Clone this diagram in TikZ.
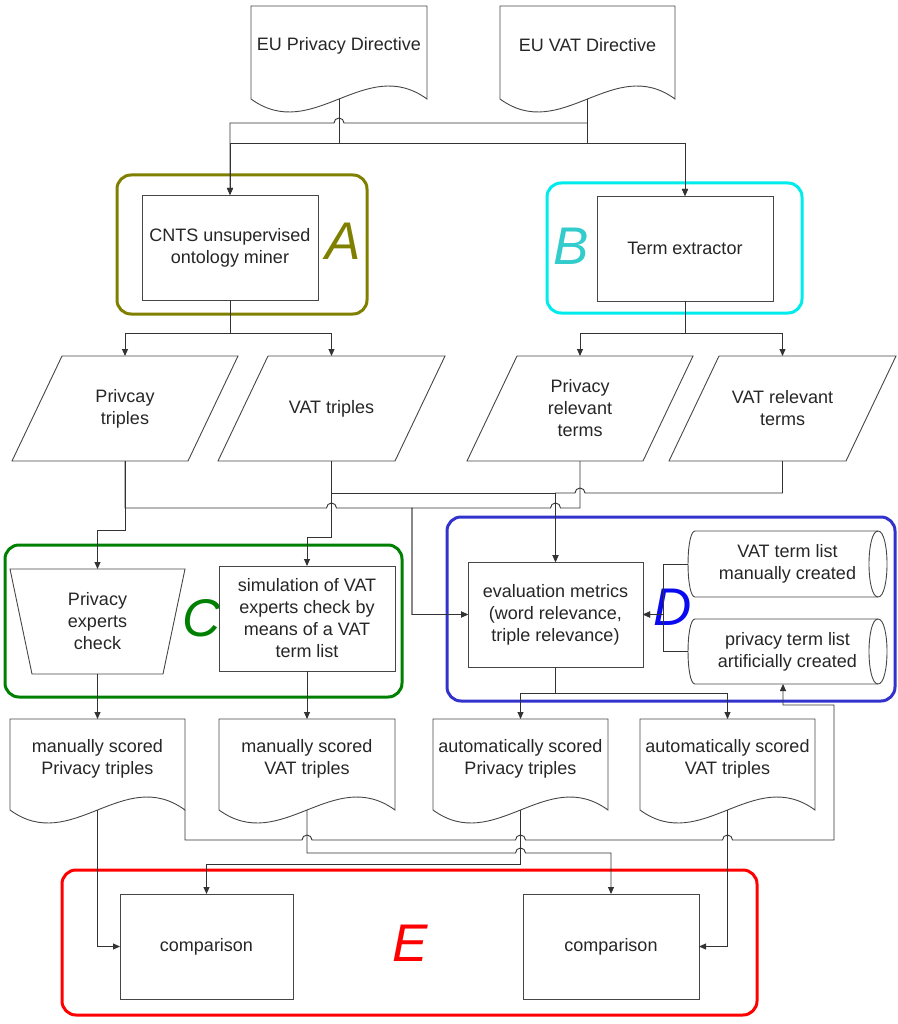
\documentclass[tikz,border=0pt]{standalone}
\usepackage{fontspec}
\setmainfont{Liberation Sans}
\usetikzlibrary{arrows.meta,calc}
\definecolor{olv}{RGB}{128,128,0}
\definecolor{cyn}{RGB}{0,235,235}
\definecolor{cynL}{RGB}{51,204,204}
\definecolor{grn}{RGB}{0,128,0}
\definecolor{blu}{RGB}{51,51,204}
\definecolor{bluL}{RGB}{10,10,240}
\definecolor{rd}{RGB}{255,0,0}
\definecolor{ln}{RGB}{70,70,70}
\tikzset{
  txt/.style={font=\fontsize{18}{22}\selectfont, align=center, text=black!85},
  area/.style={rectangle, inner sep=0pt, outer sep=0pt, txt},
  boxed/.style={draw=ln, line width=0.9pt, fill=white},
  sh/.style={draw=ln, line width=0.9pt},
  conn/.style={draw=black!80, line width=0.9pt},
  arr/.style={conn, -{Triangle[length=7pt,width=6pt]}},
  frame/.style={rectangle, draw=#1, line width=3pt, rounded corners=14pt, inner sep=0pt, outer sep=0pt},
  biglet/.style={font=\fontsize{53}{53}\selectfont\itshape, inner sep=0pt, text=#1}
}
\newcommand\mkarea[7][]{%
  \pgfmathsetmacro\aW{#5-#3}\pgfmathsetmacro\aH{#6-#4}%
  \pgfmathsetmacro\aX{(#3+#5)/2}\pgfmathsetmacro\aY{(#4+#6)/2}%
  \node[area, minimum width=\aW pt, minimum height=\aH pt, #1] (#2) at (\aX,\aY) {#7};}
\newcommand\docline[1]{%
  \draw[sh] (#1.south west) -- (#1.north west) -- (#1.north east) -- (#1.south east)
    .. controls ($(#1.south)+(26,-45)$) and ($(#1.south)+(-26,45)$) .. (#1.south west) -- cycle;}
\newcommand\paraline[1]{%
  \draw[sh] (#1.south west) -- ($(#1.north west)+(50,0)$) -- (#1.north east) -- ($(#1.south east)+(-50,0)$) -- cycle;}
\newcommand\trapline[1]{%
  \draw[sh] (#1.north west) -- (#1.north east) -- ($(#1.south east)+(-22,0)$) -- ($(#1.south west)+(22,0)$) -- cycle;}
\newcommand\storeline[1]{%
  \draw[sh] ($(#1.north west)+(7,0)$) -- ($(#1.north east)+(-9,0)$)
    .. controls ($(#1.north east)+(3,0)$) and ($(#1.south east)+(3,0)$) .. ($(#1.south east)+(-9,0)$)
    -- ($(#1.south west)+(7,0)$)
    .. controls ($(#1.south west)+(-2.3,0)$) and ($(#1.north west)+(-2.3,0)$) .. ($(#1.north west)+(7,0)$) -- cycle;
  \draw[sh] ($(#1.north east)+(-9,0)$)
    .. controls ($(#1.north east)+(-21,0)$) and ($(#1.south east)+(-21,0)$) .. ($(#1.south east)+(-9,0)$);}
\begin{document}
\begin{tikzpicture}[x=1pt,y=-1pt]
\useasboundingbox (0,0) rectangle (897,1024);

% frames
\mkarea[frame=olv]{frA}{117}{175}{367}{314}{}
\mkarea[frame=cyn]{frB}{547}{183}{802}{313}{}
\mkarea[frame=grn]{frC}{5}{545}{402}{697}{}
\mkarea[frame=blu]{frD}{447}{517}{895}{701}{}
\mkarea[frame=rd]{frE}{62}{870}{757}{1015}{}

% group letters
\node[biglet=olv] (LA) at (343,241) {A};
\node[biglet=cynL] (LB) at (571,246) {B};
\node[biglet=grn] (LC) at (202,618) {C};
\node[biglet=bluL] (LD) at (673,607) {D};
\node[biglet=rd] (LE) at (410,943) {E};

% documents (top)
\mkarea[label={[txt,yshift=7pt]center:{EU Privacy Directive}}]{dprv}{251}{6}{427}{99}{}
\docline{dprv}
\mkarea[label={[txt,yshift=7pt]center:{EU VAT Directive}}]{dvat}{500}{6}{675}{99}{}
\docline{dvat}

% processes A, B
\mkarea[boxed]{mine}{142}{195}{318}{300}{CNTS unsupervised\\ontology miner}
\mkarea[boxed]{term}{597}{196}{773}{301}{Term extractor}

% data (parallelograms)
\mkarea{ptri}{12}{356}{238}{461}{Privcay\\triples}
\paraline{ptri}
\mkarea{vtri}{218}{356}{445}{461}{VAT triples}
\paraline{vtri}
\mkarea{prel}{467}{356}{693}{461}{Privacy\\relevant\\terms}
\paraline{prel}
\mkarea{vrel}{669}{356}{896}{461}{VAT relevant\\terms}
\paraline{vrel}

% C
\mkarea{pexp}{10}{569}{185}{674}{Privacy\\experts\\check}
\trapline{pexp}
\mkarea[boxed]{sim}{219}{566}{395}{671}{simulation of VAT\\experts check by\\means of a VAT\\term list}

% D
\mkarea[boxed]{eval}{468}{562}{643}{667}{evaluation metrics\\(word relevance,\\triple relevance)}
\mkarea{vlist}{688}{531}{887}{597}{VAT term list\\manually created}
\storeline{vlist}
\mkarea{plist}{688}{619}{887}{684}{privacy term list\\artificially created}
\storeline{plist}

% documents (bottom)
\mkarea[label={[txt,yshift=6pt]center:{manually scored\\Privacy triples}}]{dmp}{10}{719}{185}{810}{}
\docline{dmp}
\mkarea[label={[txt,yshift=6pt]center:{manually scored\\VAT triples}}]{dmv}{219}{719}{395}{810}{}
\docline{dmv}
\mkarea[label={[txt,yshift=6pt]center:{automatically scored\\Privacy triples}}]{dap}{433}{719}{608}{810}{}
\docline{dap}
\mkarea[label={[txt,yshift=6pt]center:{automatically scored\\VAT triples}}]{dav}{640}{719}{815}{810}{}
\docline{dav}

% E
\mkarea[boxed]{cmp1}{120}{894}{293}{999}{comparison}
\mkarea[boxed]{cmp2}{523}{894}{699}{999}{comparison}

% routing rows / columns
\coordinate (r1) at (0,123);
\coordinate (r2) at (0,143);
\coordinate (r3) at (0,333);
\coordinate (r7) at (0,493);
\coordinate (r4) at (0,508);
\coordinate (r5) at (0,530);
\coordinate (r6) at (0,537);
\coordinate (r8) at (0,693);
\coordinate (r10) at (0,705);
\coordinate (r9) at (0,840);
\coordinate (r11) at (0,853);
\coordinate (r12) at (0,864);
\coordinate (k) at (412,0);
\coordinate (kx) at (834,0);
\coordinate (cD) at (663,0);
\coordinate (plin) at ($(plist.south)+(-4.5,0)$);

% directives -> A, B
\draw[arr] (dprv.south) |- (mine.north |- r2) -- (mine.north);
\draw[arr] (dprv.south) |- (term.north |- r2) -- (term.north);
\draw[arr] (dvat.south) -- (dvat.south |- r1) -- ($(dprv.south |- r1)+(5,0)$)
  arc[start angle=0,end angle=180,radius=5pt] -- (mine.north |- r1) -- (mine.north);
\draw[arr] (dvat.south) |- (term.north |- r2) -- (term.north);

% A, B -> data
\draw[arr] (mine.south) |- (ptri.north |- r3) -- (ptri.north);
\draw[arr] (mine.south) |- (vtri.north |- r3) -- (vtri.north);
\draw[arr] (term.south) |- (prel.north |- r3) -- (prel.north);
\draw[arr] (term.south) |- (vrel.north |- r3) -- (vrel.north);

% data -> C, D
\draw[arr] (ptri.south) |- (pexp.north |- r5) -- (pexp.north);
\draw[arr] (ptri.south) -- (ptri.south |- r4) -- ($(vtri.south |- r4)+(-5,0)$)
  arc[start angle=180,end angle=0,radius=5pt] -- (k |- r4) |- (eval.west);
\draw[arr] (prel.south) -- (prel.south |- r4) -- ($(eval.north |- r4)+(5,0)$)
  arc[start angle=0,end angle=180,radius=5pt] -- (k |- r4) |- (eval.west);
\draw[arr] (vtri.south) |- (sim.north |- r6) -- (sim.north);
\draw[arr] (vtri.south) |- (eval.north |- r7) -- (eval.north);
\draw[arr] (vrel.south) -- (vrel.south |- r7) -- ($(prel.south |- r7)+(5,0)$)
  arc[start angle=0,end angle=180,radius=5pt] -- (eval.north |- r7) -- (eval.north);

% term lists -> evaluation
\draw[arr] (vlist.west) -| (cD |- eval.east) -- (eval.east);
\draw[arr] (plist.west) -| (cD |- eval.east) -- (eval.east);

% C, D -> scored triples
\draw[arr] (pexp.south) -- (dmp.north);
\draw[arr] (sim.south) -- (dmv.north);
\draw[arr] (eval.south) |- (dap.north |- r8) -- (dap.north);
\draw[arr] (eval.south) |- (dav.north |- r8) -- (dav.north);

% feedback to privacy term list
\draw[arr] (dmp.south east) -- (dmp.south east |- r9)
  -- ($(dmv.south |- r9)+(-5,0)$) arc[start angle=180,end angle=0,radius=5pt]
  -- ($(dap.south |- r9)+(-5,0)$) arc[start angle=180,end angle=0,radius=5pt]
  -- ($(dav.south |- r9)+(-5,0)$) arc[start angle=180,end angle=0,radius=5pt]
  -- (kx |- r9) -- (kx |- r10) -- (plin |- r10) -- (plin);

% scored triples -> comparisons
\draw[arr] (dmv.south) -- (dmv.south |- r11)
  -- ($(dap.south |- r11)+(-5,0)$) arc[start angle=180,end angle=0,radius=5pt]
  -- (cmp2.north |- r11) -- (cmp2.north);
\draw[arr] (dap.south) |- (cmp1.north |- r12) -- (cmp1.north);
\draw[arr] (dmp.south) |- (cmp1.west);
\draw[arr] (dav.south) |- (cmp2.east);
\end{tikzpicture}
\end{document}
